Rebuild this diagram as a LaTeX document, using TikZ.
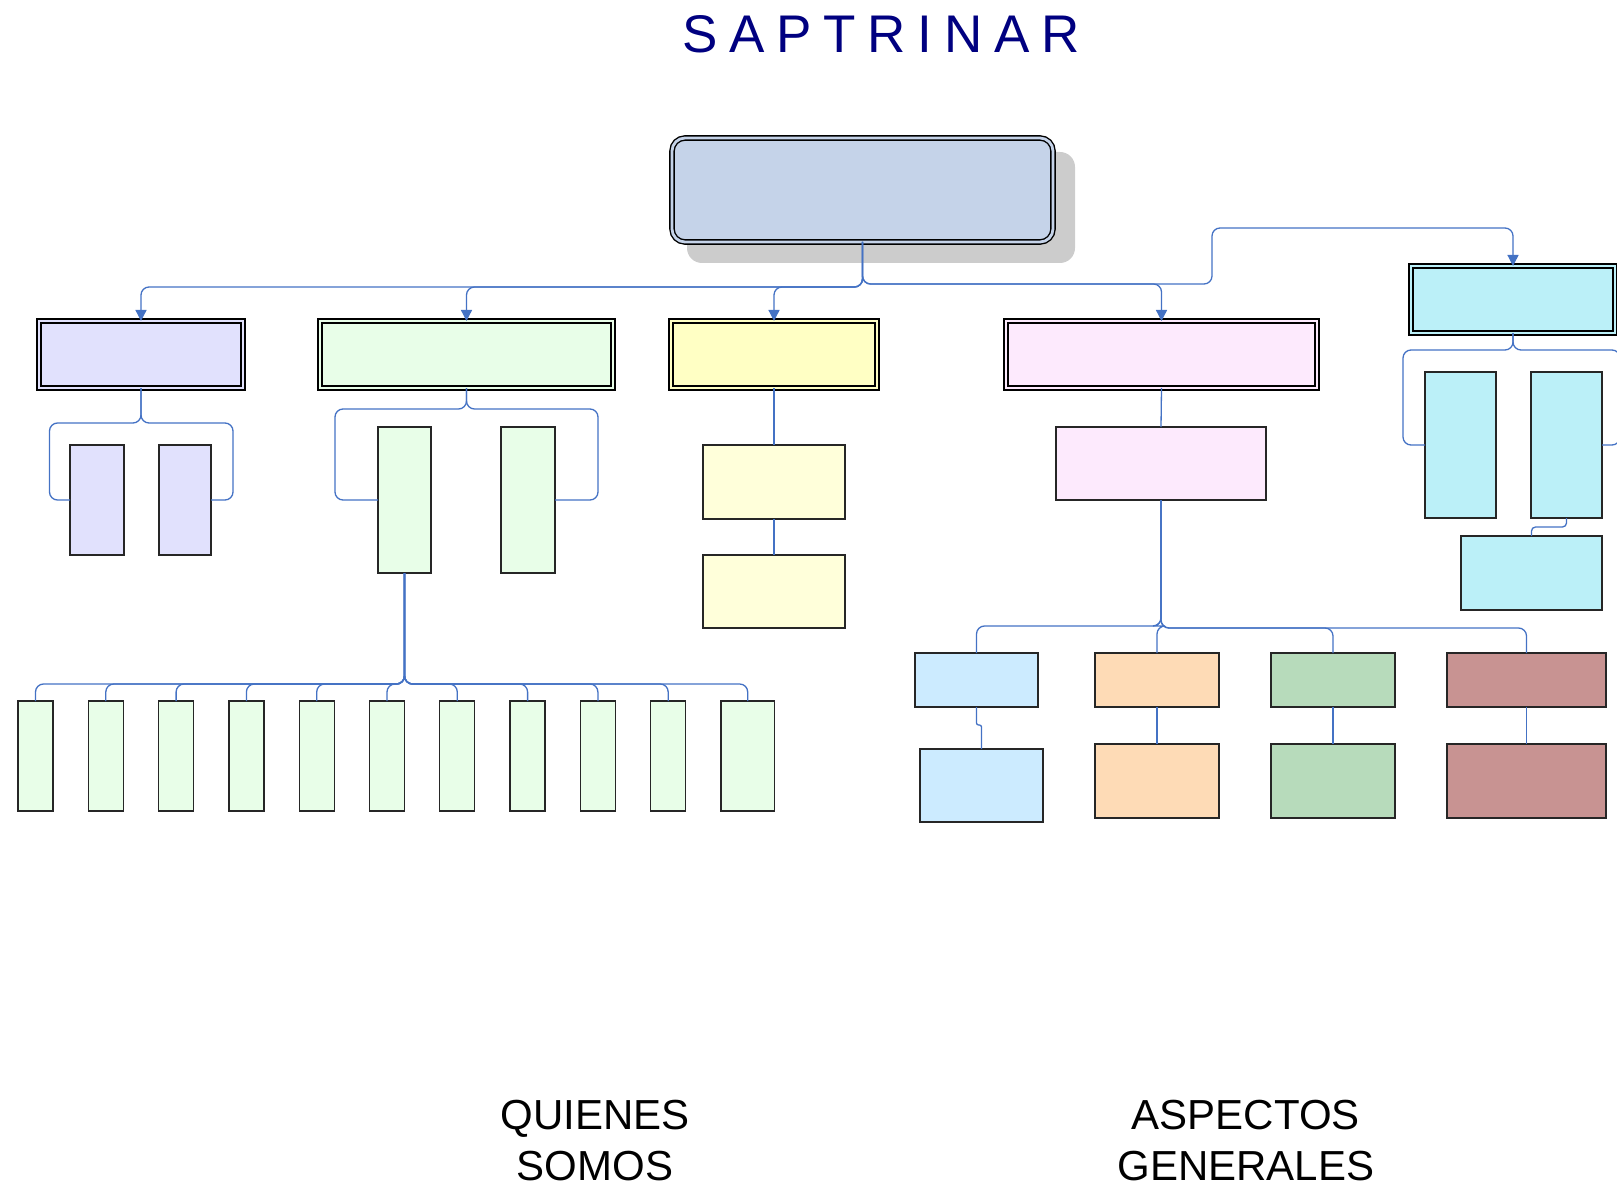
\documentclass[tikz,border=0pt]{standalone}
\usepackage{fontspec}
\setmainfont{Liberation Sans}
\usetikzlibrary{arrows.meta}
\definecolor{rootfill}{HTML}{C5D3E9}
\definecolor{shadowgray}{HTML}{CCCCCC}
\definecolor{purplefill}{HTML}{E1E1FD}
\definecolor{greenfill}{HTML}{E8FEE8}
\definecolor{yellowfill}{HTML}{FFFFC4}
\definecolor{yellowlight}{HTML}{FFFFDA}
\definecolor{pinkfill}{HTML}{FDEAFD}
\definecolor{cyanfill}{HTML}{BBF0F8}
\definecolor{lightblue}{HTML}{CCEBFF}
\definecolor{peach}{HTML}{FEDBB6}
\definecolor{sage}{HTML}{B7DBBB}
\definecolor{rose}{HTML}{C89392}
\definecolor{navytitle}{HTML}{000080}
\definecolor{connblue}{HTML}{4472C4}
\begin{document}
\begin{tikzpicture}[x=1pt,y=-1pt,
  conn/.style={draw=connblue, line width=1.3pt, rounded corners=8pt},
  arr/.style={conn, -{Triangle[width=11pt,length=11pt]}},
  topbox/.style={draw=black, line width=1.4pt, double=#1, double distance=2.8pt, fill=#1, rectangle, inner sep=0pt, outer sep=0pt},
  box/.style={draw=black!85, line width=1.3pt, fill=#1, rectangle, inner sep=0pt, outer sep=0pt},
]
\useasboundingbox (0,0) rectangle (1617,1190);
\begin{scope}
\clip (0,0) rectangle (1617,1190);

% title
\node[anchor=base, text=navytitle, font=\fontsize{53}{60}\selectfont, inner sep=0pt] (title) at (881,53) {\spaceskip=11.75pt S A P T R I N A R};

% root with shadow
\fill[shadowgray, rounded corners=15pt] (687,152) rectangle (1075,263);
\node[draw=black, line width=1.4pt, double=rootfill, double distance=2.8pt, fill=rootfill, rounded corners=13pt, inner sep=0pt, outer sep=0pt, minimum width=381pt, minimum height=104pt] (root) at (862.5,190) {};

% level 1
\node[topbox=purplefill, minimum width=204pt, minimum height=67pt] (purple) at (141,354.5) {};
\node[topbox=greenfill, minimum width=293pt, minimum height=67pt] (green) at (466.5,354.5) {};
\node[topbox=yellowfill, minimum width=206pt, minimum height=67pt] (yellow) at (774,354.5) {};
\node[topbox=pinkfill, minimum width=311pt, minimum height=67pt] (pink) at (1161.5,354.5) {};
\node[topbox=cyanfill, minimum width=204pt, minimum height=67pt] (cyan) at (1513,299.5) {};

% level 2
\node[box=purplefill, minimum width=54pt, minimum height=110pt] (p1) at (97,500) {};
\node[box=purplefill, minimum width=52pt, minimum height=110pt] (p2) at (185,500) {};
\node[box=greenfill, minimum width=53pt, minimum height=146pt] (g1) at (404.5,500) {};
\node[box=greenfill, minimum width=54pt, minimum height=146pt] (g2) at (528,500) {};
\node[box=yellowlight, minimum width=142pt, minimum height=74pt] (y1) at (774,482) {};
\node[box=yellowlight, minimum width=142pt, minimum height=73pt] (y2) at (774,591.5) {};
\node[box=pinkfill, minimum width=210pt, minimum height=73pt] (k1) at (1161,463.5) {};
\node[box=cyanfill, minimum width=71pt, minimum height=146pt] (c1) at (1460.5,445) {};
\node[box=cyanfill, minimum width=71pt, minimum height=146pt] (c2) at (1566.5,445) {};
\node[box=cyanfill, minimum width=141pt, minimum height=74pt] (c3) at (1531.5,573) {};

% bottom-left row
\foreach \i in {0,...,9} {
  \node[box=greenfill, minimum width=35pt, minimum height=110pt] (bk\i) at ({35.5+70.3*\i},756) {};
}
\node[box=greenfill, minimum width=53.7pt, minimum height=110pt] (bk10) at (747.7,756) {};

% bottom-right rows
\node[box=lightblue, minimum width=123pt, minimum height=54pt] (b1) at (976.5,680) {};
\node[box=peach, minimum width=124pt, minimum height=54pt] (b2) at (1157,680) {};
\node[box=sage, minimum width=124pt, minimum height=54pt] (b3) at (1333,680) {};
\node[box=rose, minimum width=159pt, minimum height=54pt] (b4) at (1526.5,680) {};
\node[box=lightblue, minimum width=123pt, minimum height=73pt] (d1) at (981.5,785.5) {};
\node[box=peach, minimum width=124pt, minimum height=74pt] (d2) at (1157,781) {};
\node[box=sage, minimum width=124pt, minimum height=74pt] (d3) at (1333,781) {};
\node[box=rose, minimum width=159pt, minimum height=74pt] (d4) at (1526.5,781) {};

% connectors from root
\coordinate (jl) at (862.5,287);
\coordinate (jr) at (862.5,284);
\coordinate (cyanup) at (1212,228);
\draw[arr] (root.south) -- (jl) -| (purple.north);
\draw[arr] (root.south) -- (jl) -| (green.north);
\draw[arr] (root.south) -- (jl) -| (yellow.north);
\draw[arr] (root.south) -- (jr) -| (pink.north);
\draw[arr] (root.south) -- (jr) -| (cyanup) -| (cyan.north);

% purple children
\draw[conn] (purple.south) |- (49.5,423) |- (p1.west);
\draw[conn] (purple.south) |- (233,423) |- (p2.east);
% green children
\draw[conn] (green.south) |- (335,409) |- (g1.west);
\draw[conn] (green.south) |- (598,409) |- (g2.east);
\foreach \i in {0,...,10} {
  \draw[conn] (g1.south) -- ++(0,111) -| (bk\i.north);
}
% yellow
\draw[conn] (yellow.south) -- (y1.north);
\draw[conn] (y1.south) -- (y2.north);
% pink
\draw[conn] (pink.south) -- (k1.north);
\draw[conn] (k1.south) -- ++(0,126) -| (b1.north);
\draw[conn] (k1.south) -- ++(0,126) -| (b2.north);
\draw[conn] (k1.south) -- ++(0,128) -| (b3.north);
\draw[conn] (k1.south) -- ++(0,128) -| (b4.north);
\draw[conn, rounded corners=2pt] (b1.south) -- ++(0,18) -| (d1.north);
\draw[conn] (b2.south) -- (d2.north);
\draw[conn] (b3.south) -- (d3.north);
\draw[conn] (b4.south) -- (d4.north);
% cyan
\draw[conn] (cyan.south) |- (1403,350) |- (c1.west);
\draw[conn] (cyan.south) |- (1620,350) |- (c2.east);
\draw[conn, rounded corners=4pt] (c2.south) -- ++(0,9) -| (c3.north);

% labels
\node[align=center, anchor=base, font=\fontsize{42}{51}\selectfont, inner sep=0pt] (quienes) at (595,1180) {QUIENES\\SOMOS};
\node[align=center, anchor=base, font=\fontsize{42}{51}\selectfont, inner sep=0pt] (aspectos) at (1245.7,1180) {ASPECTOS\\GENERALES};
\end{scope}
\end{tikzpicture}
\end{document}
